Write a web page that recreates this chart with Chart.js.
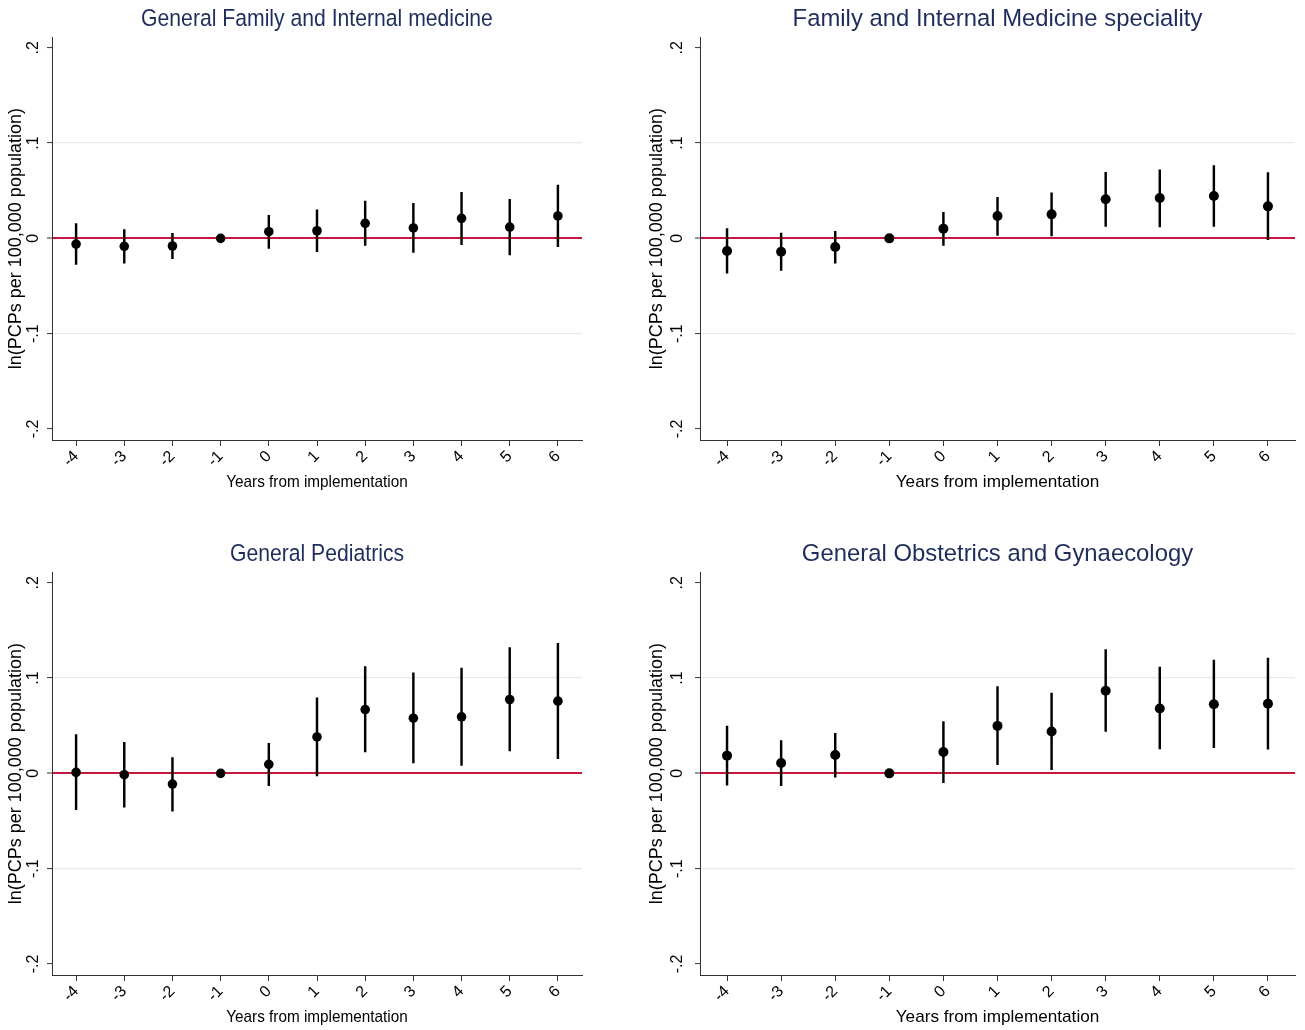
<!DOCTYPE html>
<html>
<head>
<meta charset="utf-8">
<script src="https://cdn.jsdelivr.net/npm/chart.js@4.4.1/dist/chart.umd.min.js"></script>
<style>
  html, body { margin: 0; padding: 0; background: #fff; overflow: hidden; width: 1305px; height: 1030px; }
  .panel { position: absolute; }
</style>
</head>
<body>
<div class="panel" style="left:0px;top:0px;"><canvas id="c1" width="634" height="495"></canvas></div>
<div class="panel" style="left:645px;top:0px;"><canvas id="c2" width="705" height="495"></canvas></div>
<div class="panel" style="left:0px;top:535px;"><canvas id="c3" width="634" height="495"></canvas></div>
<div class="panel" style="left:645px;top:535px;"><canvas id="c4" width="705" height="495"></canvas></div>
<script>
// ---------- data ----------
const years = [-4, -3, -2, -1, 0, 1, 2, 3, 4, 5, 6];
const yTickValues = [-0.2, -0.1, 0, 0.1, 0.2];
const yTickLabels = ['-.2', '-.1', '0', '.1', '.2'];

const titles = [
  'General Family and Internal medicine',
  'Family and Internal Medicine speciality',
  'General Pediatrics',
  'General Obstetrics and Gynaecology'
];

const gfimEst = [-0.006, -0.0084, -0.008, 0, 0.007, 0.008, 0.0158, 0.0109, 0.021, 0.0119, 0.0235];
const gfimLo  = [-0.0273, -0.026, -0.0214, null, -0.0105, -0.014, -0.0074, -0.0147, -0.0067, -0.0175, -0.0088];
const gfimHi  = [0.0154, 0.0091, 0.0053, null, 0.0242, 0.030, 0.039, 0.0368, 0.0484, 0.041, 0.056];

const fimsEst = [-0.0133, -0.014, -0.0091, 0, 0.0102, 0.0235, 0.0252, 0.041, 0.0424, 0.0445, 0.0336];
const fimsLo  = [-0.0365, -0.0336, -0.026, null, -0.0074, 0.0032, 0.0025, 0.0126, 0.0119, 0.0126, -0.0014];
const fimsHi  = [0.0102, 0.0056, 0.0074, null, 0.0273, 0.043, 0.0477, 0.0694, 0.0719, 0.0764, 0.069];

const gpEst = [0.001, -0.0014, -0.0112, 0, 0.0095, 0.0382, 0.067, 0.0579, 0.0593, 0.0775, 0.0758];
const gpLo  = [-0.0382, -0.0354, -0.0396, null, -0.013, -0.0028, 0.0225, 0.0109, 0.0084, 0.0235, 0.0154];
const gpHi  = [0.0407, 0.0326, 0.0165, null, 0.0316, 0.0793, 0.112, 0.1056, 0.1105, 0.132, 0.1365];

const gogEst = [0.0186, 0.0109, 0.0193, 0, 0.0225, 0.0498, 0.0439, 0.0867, 0.068, 0.0726, 0.073];
const gogLo  = [-0.0123, -0.013, -0.0039, null, -0.0098, 0.0091, 0.0039, 0.0439, 0.0256, 0.027, 0.0253];
const gogHi  = [0.0495, 0.0344, 0.0421, null, 0.0544, 0.0912, 0.0842, 0.1298, 0.1116, 0.119, 0.121];

const xTitle = 'Years from implementation';
const yTitle = 'ln(PCPs per 100,000 population)';

// ---------- style ----------
const REGULAR = "'Liberation Sans', Arial, Helvetica, sans-serif";
const TITLE_COLOR = '#1f2d5c';
const ZERO_COLOR = '#c8163f';
const GRID_COLOR = '#e2eaee';

Chart.defaults.animation = false;
Chart.defaults.color = '#000';

// rotated y tick labels + horizontally condensed titles
const textPlugin = {
  id: 'textPlugin',
  afterDraw(chart, args, opts) {
    const ctx = chart.ctx;
    const ca = chart.chartArea;
    const cx = (ca.left + ca.right) / 2;
    const scale = chart.scales.y;

    ctx.save();
    ctx.fillStyle = '#000';
    ctx.font = '16px ' + REGULAR;
    ctx.textAlign = 'center';
    ctx.textBaseline = 'middle';
    scale.ticks.forEach(t => {
      const py = scale.getPixelForValue(t.value);
      ctx.save();
      ctx.translate(scale.right - opts.yLabOffset, py);
      ctx.rotate(-Math.PI / 2);
      ctx.fillText(t.label, 0, 0);
      ctx.restore();
    });
    ctx.restore();

    // chart title
    ctx.save();
    ctx.fillStyle = TITLE_COLOR;
    ctx.font = '24.5px ' + REGULAR;
    ctx.textAlign = 'center';
    ctx.textBaseline = 'alphabetic';
    ctx.translate(cx, ca.top - 11.3);
    ctx.scale(opts.titleSx, 1);
    ctx.fillText(opts.title, 0, 0);
    ctx.restore();

    // x axis title
    ctx.save();
    ctx.fillStyle = '#000';
    ctx.font = '17px ' + REGULAR;
    ctx.textAlign = 'center';
    ctx.textBaseline = 'alphabetic';
    ctx.translate(cx, ca.bottom + 46.5);
    ctx.scale(opts.xTitleSx, 1);
    ctx.fillText(opts.xTitle, 0, 0);
    ctx.restore();
  }
};

function makeChart(id, title, est, lo, hi, cfg) {
  const pts = years.map((x, i) => ({ x: x, y: est[i] }));
  const cis = [];
  years.forEach((x, i) => { if (lo[i] !== null && hi[i] !== null) cis.push({ x: x, y: [lo[i], hi[i]] }); });
  return new Chart(document.getElementById(id), {
    type: 'scatter',
    data: {
      datasets: [
        { type: 'scatter', data: pts, pointRadius: cfg.dot, pointHoverRadius: cfg.dot, backgroundColor: '#000', borderWidth: 0 },
        { type: 'bar', data: cis, backgroundColor: '#000', borderWidth: 0, barThickness: 1.8, grouped: false }
      ]
    },
    options: {
      responsive: false,
      animation: false,
      events: [],
      layout: { padding: { top: 37.3, right: cfg.rightPad, left: 0, bottom: 0 } },
      plugins: {
        legend: { display: false },
        tooltip: { enabled: false },
        title: { display: false },
        textPlugin: { title: title, xTitle: xTitle, titleSx: cfg.titleSx, xTitleSx: cfg.xTitleSx, yLabOffset: cfg.yLabOffset }
      },
      scales: {
        x: {
          type: 'linear', position: 'bottom', min: -4.5, max: 6.5, offset: false,
          afterBuildTicks: s => { s.ticks = years.map(v => ({ value: v })); },
          afterFit: s => { s.height = 55; },
          grid: { offset: false, drawOnChartArea: false, drawTicks: true, tickLength: 6, tickColor: '#333', tickWidth: 1 },
          border: { display: true, color: '#333', width: 1 },
          ticks: {
            autoSkip: false, minRotation: 45, maxRotation: 45, padding: 1,
            font: { family: REGULAR, size: 16 }, color: '#000',
            callback: v => String(v)
          },
          title: { display: false }
        },
        y: {
          type: 'linear', position: 'left', min: -0.2116, max: 0.211, beginAtZero: false,
          afterBuildTicks: s => { s.ticks = yTickValues.map(v => ({ value: v })); },
          afterFit: s => { s.width = cfg.yWidth; },
          grid: {
            offset: false, drawTicks: true, tickLength: 5, tickColor: '#333', tickWidth: 1,
            color: c => (c.tick && c.tick.value === 0) ? ZERO_COLOR : ((c.tick && Math.abs(Math.abs(c.tick.value) - 0.1) < 1e-9) ? GRID_COLOR : 'rgba(0,0,0,0)'),
            lineWidth: c => (c.tick && c.tick.value === 0) ? 2 : 1.2
          },
          border: { display: true, color: '#333', width: 1 },
          ticks: {
            display: false,
            callback: (v) => { const i = yTickValues.findIndex(t => Math.abs(t - v) < 1e-9); return i >= 0 ? yTickLabels[i] : ''; }
          },
          title: {
            display: true, text: yTitle, color: '#000',
            font: { family: REGULAR, size: 18 }, padding: { top: cfg.yTitlePad, bottom: 0 }
          }
        }
      }
    },
    plugins: [textPlugin]
  });
}

const leftCfg = { yWidth: 52, rightPad: 52, yTitlePad: 5.2, yLabOffset: 18.5, titleSx: 0.864, xTitleSx: 0.9, dot: 4.8 };
const rightCfg = { yWidth: 55, rightPad: 55, yTitlePad: 1.2, yLabOffset: 22.5, titleSx: 0.974, xTitleSx: 1.01, dot: 5 };

makeChart('c1', titles[0], gfimEst, gfimLo, gfimHi, leftCfg);
makeChart('c2', titles[1], fimsEst, fimsLo, fimsHi, rightCfg);
makeChart('c3', titles[2], gpEst, gpLo, gpHi, leftCfg);
makeChart('c4', titles[3], gogEst, gogLo, gogHi, rightCfg);
</script>
</body>
</html>
